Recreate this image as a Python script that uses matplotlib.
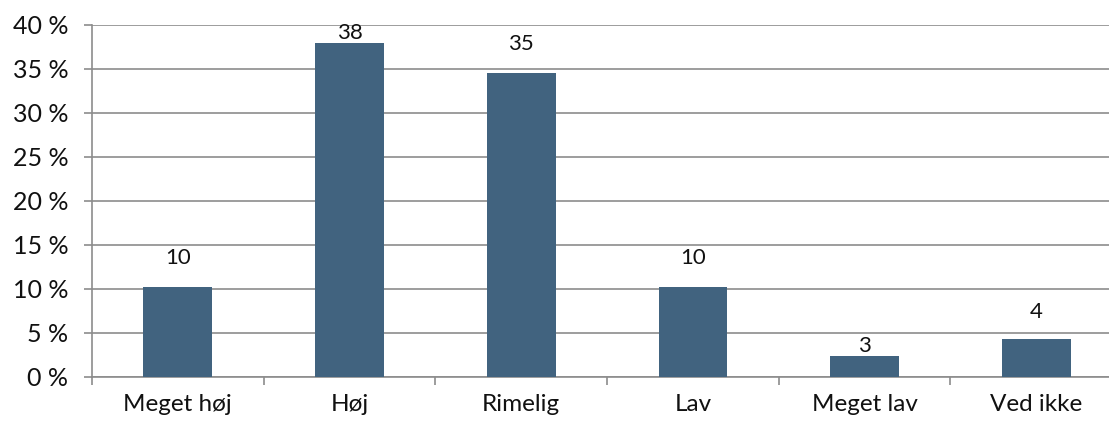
import matplotlib
matplotlib.use("Agg")
import matplotlib.pyplot as plt

categories = ["Meget høj", "Høj", "Rimelig", "Lav", "Meget lav", "Ved ikke"]
values = [10.2, 37.9, 34.5, 10.2, 2.4, 4.35]
labels = ["10", "38", "35", "10", "3", "4"]
yticks = [0, 5, 10, 15, 20, 25, 30, 35, 40]
ytick_labels = ["0 %", "5 %", "10 %", "15 %", "20 %", "25 %", "30 %", "35 %", "40 %"]

label_offsets = [14, 0, 14, 14, 0, 12]  # points above bar top

plt.rcParams['font.family'] = ['Lato', 'DejaVu Sans']

fig = plt.figure(figsize=(11.09, 4.21), dpi=100)
ax = fig.add_axes([92/1109, 1 - 377/421, 1030/1109, 352/421])

x = list(range(len(categories)))
bars = ax.bar(x, values, width=0.40, color="#41637f", zorder=3)

ax.set_xlim(-0.5, len(categories) - 0.5)
ax.set_ylim(0, 40)
ax.set_yticks(yticks)
ax.set_yticklabels(ytick_labels, fontsize=18, color="#111111")
ax.set_xticks(x)
ax.set_xticklabels(categories, fontsize=17.5, color="#111111")

ax.yaxis.grid(True, color="#8c8c8c", linewidth=1.2, zorder=0)
ax.set_axisbelow(True)

for s in ["top", "right"]:
    ax.spines[s].set_visible(False)
for s in ["left", "bottom"]:
    ax.spines[s].set_color("#8c8c8c")
    ax.spines[s].set_linewidth(1.2)

ax.tick_params(axis="y", length=6, width=1.2, color="#8c8c8c", pad=11)
ax.tick_params(axis="x", length=0, pad=12)
# minor ticks at category boundaries
ax.set_xticks([i + 0.5 for i in range(-1, len(categories))], minor=True)
ax.tick_params(axis="x", which="minor", length=6, width=1.2, color="#8c8c8c", direction="out")

for xi, v, lab, off in zip(x, values, labels, label_offsets):
    ax.annotate(lab, (xi, v), xytext=(0, off), textcoords="offset points",
                ha="center", va="bottom", fontsize=16, color="#111111")

fig.savefig("out.png", dpi=100)
